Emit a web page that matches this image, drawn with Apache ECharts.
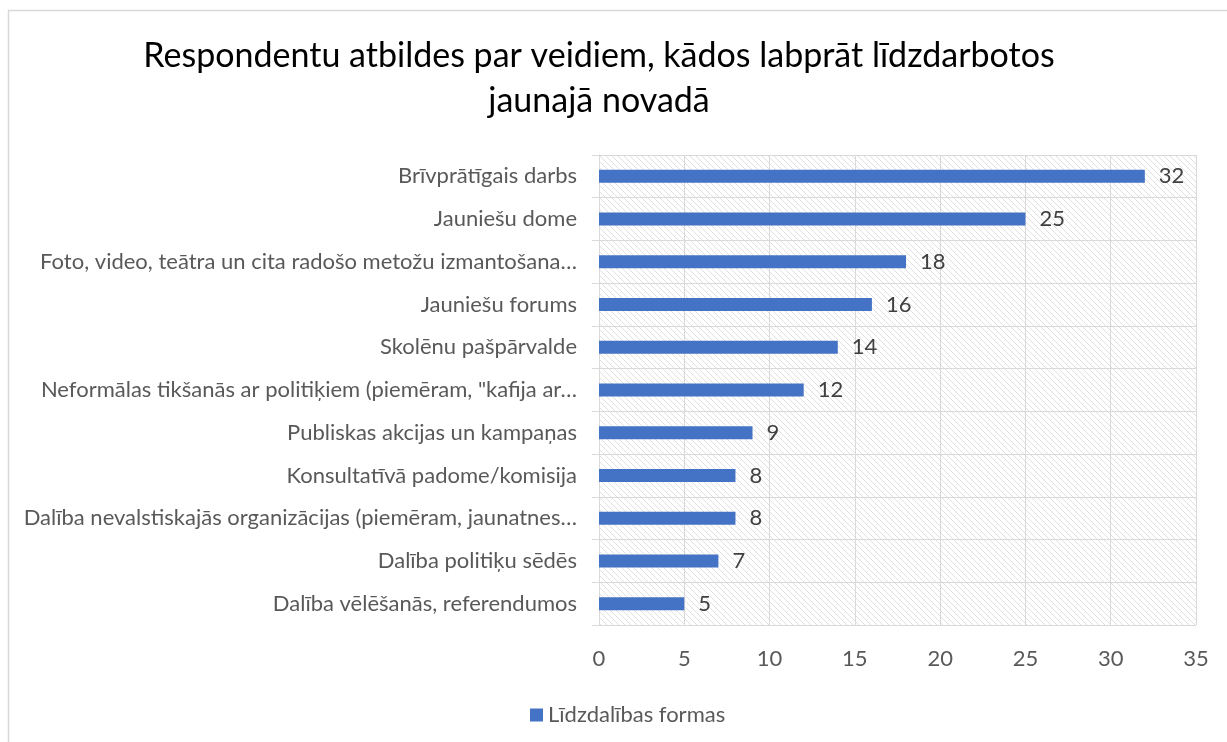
<!DOCTYPE html>
<html>
<head>
<meta charset="utf-8">
<script src="https://cdn.jsdelivr.net/npm/echarts@6/dist/echarts.min.js"></script>
<style>
  html, body { margin: 0; padding: 0; background: #fff; }
  #chart { width: 1227px; height: 742px; }
</style>
</head>
<body>
<div id="chart"></div>
<script>
const categories = [
  'Brīvprātīgais darbs',
  'Jauniešu dome',
  'Foto, video, teātra un cita radošo metožu izmantošana…',
  'Jauniešu forums',
  'Skolēnu pašpārvalde',
  'Neformālas tikšanās ar politiķiem (piemēram, "kafija ar…',
  'Publiskas akcijas un kampaņas',
  'Konsultatīvā padome/komisija',
  'Dalība nevalstiskajās organizācijas (piemēram, jaunatnes…',
  'Dalība politiķu sēdēs',
  'Dalība vēlēšanās, referendumos'
]
const values = [32, 25, 18, 16, 14, 12, 9, 8, 8, 7, 5]
const seriesName = 'Līdzdalības formas'

// hatch tile for plot background
const tile = document.createElement('canvas')
tile.width = 6
tile.height = 6
const tc = tile.getContext('2d')
tc.fillStyle = '#ffffff'
tc.fillRect(0, 0, 6, 6)
tc.strokeStyle = '#e0e0e0'
tc.lineWidth = 1
tc.beginPath()
tc.moveTo(-1, -1); tc.lineTo(7, 7)
tc.moveTo(-4, 2); tc.lineTo(4, 10)
tc.moveTo(2, -4); tc.lineTo(10, 4)
tc.stroke()

const font = 'Lato, "Open Sans", sans-serif'
const chart = echarts.init(document.getElementById('chart'), null, { renderer: 'canvas' })
chart.setOption({
  backgroundColor: '#fff',
  animation: false,
  textStyle: { fontFamily: font },
  title: {
    text: 'Respondentu atbildes par veidiem, kādos labprāt līdzdarbotos\njaunajā novadā',
    left: 594, top: 29, textAlign: 'center',
    textStyle: { color: '#000', fontSize: 34, fontWeight: 'normal', lineHeight: 45, fontFamily: font }
  },
  graphic: [{
    type: 'rect', silent: true, z: -1,
    shape: { x: 8.5, y: 10.5, width: 1400, height: 900 },
    style: { fill: 'none', stroke: '#d9d9d9', lineWidth: 1.5 }
  }],
  grid: {
    left: 599, right: 31, top: 155, bottom: 117,
    show: true, borderWidth: 0,
    backgroundColor: { image: tile, repeat: 'repeat' }
  },
  legend: {
    left: 525, top: 699,
    icon: 'rect', itemWidth: 13, itemHeight: 13, itemGap: 6,
    textStyle: { color: '#595959', fontSize: 22, fontFamily: font }
  },
  xAxis: {
    type: 'value', min: 0, max: 35, interval: 5,
    axisLine: { show: false },
    axisTick: { show: false },
    splitLine: { lineStyle: { color: '#d9d9d9', width: 1 } },
    axisLabel: { color: '#595959', fontSize: 22, margin: 23, fontFamily: font }
  },
  yAxis: {
    type: 'category', inverse: true,
    data: categories,
    axisLine: { lineStyle: { color: '#d9d9d9', width: 1 } },
    axisTick: { show: true, length: 7, lineStyle: { color: '#d9d9d9' } },
    splitLine: { show: true, lineStyle: { color: '#d9d9d9', width: 1 } },
    axisLabel: { color: '#595959', fontSize: 22, margin: 22, fontFamily: font }
  },
  series: [{
    name: seriesName,
    type: 'bar',
    data: values,
    barWidth: 13,
    itemStyle: { color: '#4472c4' },
    label: {
      show: true, position: 'right', distance: 14,
      color: '#404040', fontSize: 22, fontFamily: font
    }
  }]
})
</script>
</body>
</html>
